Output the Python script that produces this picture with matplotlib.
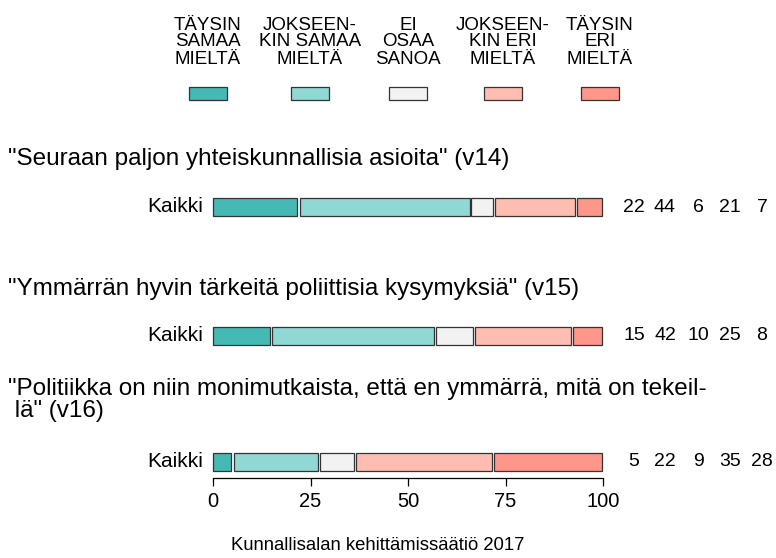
import matplotlib
matplotlib.use("Agg")
import matplotlib.pyplot as plt
from matplotlib.patches import Rectangle

plt.rcParams['font.family'] = ['Liberation Sans', 'DejaVu Sans']

categories = ["TÄYSIN\nSAMAA\nMIELTÄ", "JOKSEEN-\nKIN SAMAA\nMIELTÄ", "EI\nOSAA\nSANOA",
              "JOKSEEN-\nKIN ERI\nMIELTÄ", "TÄYSIN\nERI\nMIELTÄ"]
colors = ["#45b9b3", "#8fd8d3", "#f2f2f2", "#ffbcb0", "#ff968a"]
questions = ['"Seuraan paljon yhteiskunnallisia asioita" (v14)',
             '"Ymmärrän hyvin tärkeitä poliittisia kysymyksiä" (v15)',
             '"Politiikka on niin monimutkaista, että en ymmärrä, mitä on tekeil-\n lä" (v16)']
group = "Kaikki"
values = [[22, 44, 6, 21, 7],
          [15, 42, 10, 25, 8],
          [5, 22, 9, 35, 28]]
ticks = [0, 25, 50, 75, 100]
source = "Kunnallisalan kehittämissäätiö 2017"

W, H = 776, 558
fig = plt.figure(figsize=(W / 100, H / 100), dpi=100)

def fx(x):
    return x / W

def fy(y):
    return 1 - y / H

# main axes: x in percent, y in pixel rows, bottom edge = x axis line
x0, x1, yax = 213, 603, 478
ax = fig.add_axes([fx(x0), fy(yax), (x1 - x0) / W, yax / H])
ax.set_xlim(0, 100)
ax.set_ylim(yax, 0)

bar_y = [207, 336, 462]
title_y = [159, 289, 400]
num_x = [634, 665, 698, 730, 762]
bar_h = 18
gap = 0.45
for row, vals in enumerate(values):
    total = sum(vals)
    left = 0
    for v, c in zip(vals, colors):
        w = v / total * 100
        off = gap / 2 if left > 0 else 0
        ax.barh(bar_y[row], w - gap, left=left + off, height=bar_h,
                color=c, edgecolor="#333333", linewidth=0.9, clip_on=False)
        left += w
    ax.text(-2.6, bar_y[row], group, ha="right", va="center", fontsize=15)
    fig.text(fx(8), fy(title_y[row]), questions[row], ha="left", va="center",
             fontsize=17.5, linespacing=0.95)
    for v, xp in zip(vals, num_x):
        fig.text(fx(xp), fy(bar_y[row]), str(v), ha="center", va="center", fontsize=14)

for s in ["top", "right", "left"]:
    ax.spines[s].set_visible(False)
ax.spines["bottom"].set_linewidth(0.9)
ax.set_yticks([])
ax.set_xticks(ticks)
ax.tick_params(axis="x", length=6, width=0.9, pad=4, labelsize=14.5)

# legend
leg_x = [208, 310, 408, 503, 600]
for lab, c, xc in zip(categories, colors, leg_x):
    fig.text(fx(xc), fy(42), lab, ha="center", va="center", fontsize=13.5, linespacing=1.0,
             family=['Liberation Sans Narrow', 'Liberation Sans'])
    fig.patches.append(Rectangle((fx(xc - 19), fy(100)), 38 / W, 13 / H, transform=fig.transFigure,
                                 facecolor=c, edgecolor="#333333", linewidth=0.9))

fig.text(fx(378), fy(545), source, ha="center", va="center", fontsize=13.3)

fig.savefig("out.png", dpi=100)
